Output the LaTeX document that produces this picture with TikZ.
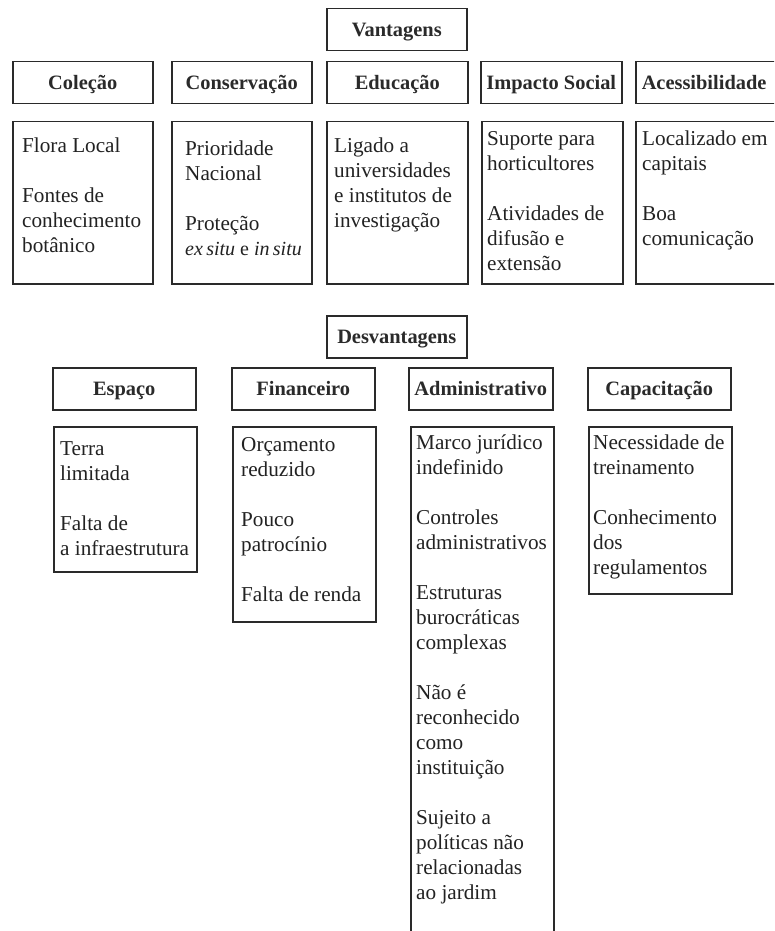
\documentclass[tikz,border=0pt]{standalone}
\usepackage{fontspec}
\setmainfont{Liberation Serif}
\newcommand\bodyfnt{\fontsize{21.2}{25}\selectfont}
\newcommand\hdrfnt{\bfseries\fontsize{20.4}{24}\selectfont}
\definecolor{lc}{HTML}{2A2A2A}
\definecolor{tc}{HTML}{222222}
\definecolor{hc}{HTML}{2A2A2A}
\tikzset{
  hbox/.style={draw=lc, line width=1.5pt, minimum height=42pt, inner sep=0pt, anchor=north west, font=\hdrfnt, text=hc, text height=18pt, text depth=4pt},
  cbox/.style={draw=lc, line width=1.5pt, inner sep=0pt, anchor=north west},
  ctext/.style={anchor=north west, align=left, inner sep=0pt, font=\bodyfnt, text=tc},
}
\begin{document}
\begin{tikzpicture}[x=1pt,y=-1pt]
\useasboundingbox (0,0) rectangle (774,931);
\fill[white] (0,0) rectangle (774,931);
\begin{scope}
\clip (0,0) rectangle (774,931);
% ---------- Vantagens ----------
\node[hbox, minimum width=140pt] (vant) at (326,8) {Vantagens};
\node[hbox, minimum width=140pt] (col) at (12,61) {Coleção};
\node[hbox, minimum width=140pt] (cons) at (171,61) {Conservação};
\node[hbox, minimum width=141pt] (edu) at (326,61) {Educação};
\node[hbox, minimum width=141pt] (imp) at (480,61) {Impacto Social};
\node[hbox, minimum width=145pt, text width=139pt, align=left] (ace) at (635,61) {\hspace*{3pt}Acessibilidade};

\node[cbox, minimum width=140pt, minimum height=162pt] (colc) at (12,121) {};
\node[cbox, minimum width=140pt, minimum height=162pt] (consc) at (171,121) {};
\node[cbox, minimum width=141pt, minimum height=162pt] (educ) at (326,121) {};
\node[cbox, minimum width=141pt, minimum height=162pt] (impc) at (481,121) {};
\node[cbox, minimum width=145pt, minimum height=162pt] (acec) at (635,121) {};

\node[ctext] (colt) at (22,138) {Flora Local\\[25pt]Fontes de\\conhecimento\\botânico};
\node[ctext] (const) at (185,141) {Prioridade\\Nacional\\[25pt]Proteção\\{\fontsize{20}{25}\selectfont\textit{ex\,situ} e \textit{in\,situ}}};
\node[ctext] (edut) at (334,138) {Ligado a\\universidades\\e institutos de\\investigação};
\node[ctext] (impt) at (487,131) {Suporte para\\horticultores\\[25pt]Atividades de\\difusão e\\extensão};
\node[ctext] (acet) at (642,131) {Localizado em\\capitais\\[25pt]Boa\\comunicação};

% ---------- Desvantagens ----------
\node[hbox, minimum width=140pt] (desv) at (326,315) {Desvantagens};
\node[hbox, minimum width=143pt] (esp) at (52,367) {Espaço};
\node[hbox, minimum width=143pt] (fin) at (231,367) {Financeiro};
\node[hbox, minimum width=144pt] (adm) at (408,367) {Administrativo};
\node[hbox, minimum width=143pt] (cap) at (587,367) {Capacitação};

\node[cbox, minimum width=143pt, minimum height=145pt] (espc) at (53,426) {};
\node[cbox, minimum width=143pt, minimum height=195pt] (finc) at (232,426) {};
\node[cbox, minimum width=143pt, minimum height=530pt] (admc) at (410,426) {};
\node[cbox, minimum width=143pt, minimum height=167pt] (capc) at (588,426) {};

\node[ctext] (espt) at (60,441) {Terra\\limitada\\[25pt]Falta de\\a infraestrutura};
\node[ctext] (fint) at (241,437) {Orçamento\\reduzido\\[25pt]Pouco\\patrocínio\\[25pt]Falta de renda};
\node[ctext] (admt) at (416,435) {Marco jurídico\\indefinido\\[25pt]Controles\\administrativos\\[25pt]Estruturas\\burocráticas\\complexas\\[25pt]Não é\\reconhecido\\como\\instituição\\[25pt]Sujeito a\\políticas não\\relacionadas\\ao jardim};
\node[ctext] (capt) at (593,435) {Necessidade de\\treinamento\\[25pt]Conhecimento\\dos\\regulamentos};
\end{scope}
\end{tikzpicture}
\end{document}
